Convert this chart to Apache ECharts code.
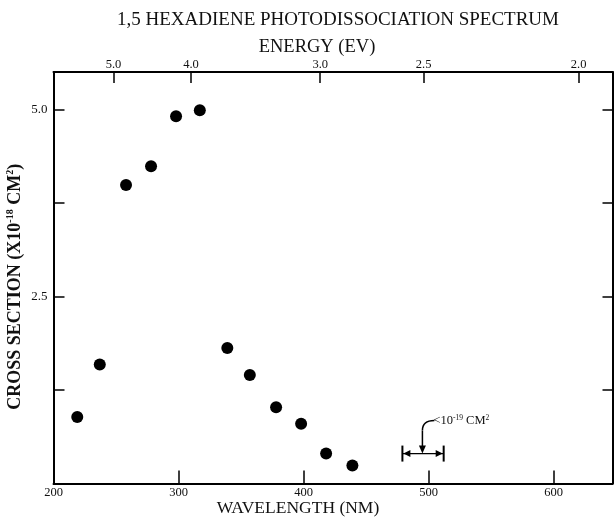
<!DOCTYPE html>
<html>
<head>
<meta charset="utf-8">
<script src="https://cdn.jsdelivr.net/npm/echarts@6/dist/echarts.min.js"></script>
<style>
html,body{margin:0;padding:0;background:#fff;}
#chart{width:615px;height:517px;}
</style>
</head>
<body>
<div id="chart"></div>
<script>
// Data
var wavelengthNm = [219, 237, 258, 278, 298, 317, 339, 357, 378, 398, 418, 439];
var crossSection = [0.89, 1.59, 3.99, 4.24, 4.91, 4.99, 1.81, 1.45, 1.02, 0.80, 0.40, 0.24];
var xTickLabels = [200, 300, 400, 500, 600];
var yTickValues = [0, 1.25, 2.5, 3.75, 5.0];
var yTickLabels = [2.5, 5.0];
var energyTicksEv = [5.0, 4.0, 3.0, 2.5, 2.0];
// upper limit: wavelength range [from, to], value, arrow position
var limitRange = [479, 512];
var limitValue = 0.40;
var limitArrowNm = 495;

var HC = 1239.84; // eV*nm
var energyPos = energyTicksEv.map(function (e) { return HC / e; });
var serif = '"Liberation Serif", "DejaVu Serif", serif';

var chart = echarts.init(document.getElementById('chart'), null, {renderer: 'canvas'});
var points = wavelengthNm.map(function (x, i) { return [x, crossSection[i]]; });

var option = {
  backgroundColor: '#fff',
  animation: false,
  title: [{
    text: '1,5 HEXADIENE PHOTODISSOCIATION SPECTRUM',
    left: 333, top: 6, textAlign: 'center',
    textStyle: {fontFamily: serif, fontSize: 19, fontWeight: 'normal', color: '#111'}
  }],
  grid: {left: 53.5, right: 2.5, top: 72, bottom: 33.5, containLabel: false, outerBoundsMode: 'none'},
  xAxis: [{
    type: 'value', position: 'bottom', min: 200, max: 647, interval: 100,
    name: 'WAVELENGTH (NM)', nameLocation: 'middle', nameGap: 16, nameMoveOverlap: false,
    nameTextStyle: {fontFamily: serif, fontSize: 17.5, color: '#111', padding: [0, 70, 0, 0]},
    axisLine: {show: true, onZero: false, lineStyle: {color: '#000', width: 2}},
    axisTick: {show: true, inside: true, length: 13, lineStyle: {color: '#000', width: 1.5}, customValues: xTickLabels},
    axisLabel: {show: true, customValues: xTickLabels, margin: 3, fontFamily: serif, fontSize: 12.5, color: '#111'},
    splitLine: {show: false}
  }, {
    type: 'value', position: 'top', min: 200, max: 647,
    name: 'ENERGY (EV)', nameLocation: 'middle', nameGap: 15, nameMoveOverlap: false,
    nameTextStyle: {fontFamily: serif, fontSize: 18.5, color: '#111', padding: [0, 32, 0, 0]},
    axisLine: {show: true, onZero: false, lineStyle: {color: '#000', width: 2}},
    axisTick: {show: true, inside: true, length: 11, lineStyle: {color: '#000', width: 1.5}, customValues: energyPos},
    axisLabel: {show: true, customValues: energyPos, margin: 1, fontFamily: serif, fontSize: 12.5, color: '#111',
      formatter: function (v) { return (HC / v).toFixed(1); }},
    splitLine: {show: false}
  }],
  yAxis: [{
    type: 'value', position: 'left', min: 0, max: 5.5,
    name: '{a|CROSS SECTION (X10}{s|-18}{a| CM}{s|2}{a|)}', nameLocation: 'middle', nameRotate: 90, nameGap: 29, nameMoveOverlap: false,
    nameTextStyle: {fontFamily: serif, color: '#111', padding: [0, 0, 0, -18],
      rich: {
        a: {fontFamily: serif, fontSize: 18, fontWeight: 'bold', color: '#111', lineHeight: 19},
        s: {fontFamily: serif, fontSize: 10, fontWeight: 'bold', color: '#111', verticalAlign: 'top', lineHeight: 19}
      }},
    axisLine: {show: true, onZero: false, lineStyle: {color: '#000', width: 2}},
    axisTick: {show: true, inside: true, length: 11, lineStyle: {color: '#000', width: 1.5}, customValues: yTickValues},
    axisLabel: {show: true, customValues: yTickLabels, margin: 6, fontFamily: serif, fontSize: 13, color: '#111',
      formatter: function (v) { return v.toFixed(1); }},
    splitLine: {show: false}
  }, {
    type: 'value', position: 'right', min: 0, max: 5.5,
    axisLine: {show: true, onZero: false, lineStyle: {color: '#000', width: 2}},
    axisTick: {show: true, inside: true, length: 10, lineStyle: {color: '#000', width: 1.5}, customValues: yTickValues},
    axisLabel: {show: false},
    splitLine: {show: false}
  }],
  series: [{
    type: 'scatter', xAxisIndex: 0, yAxisIndex: 0,
    data: points, symbol: 'circle', symbolSize: 12,
    itemStyle: {color: '#000', opacity: 1}
  }, {
    type: 'custom', xAxisIndex: 0, yAxisIndex: 0,
    data: [[limitRange[0], limitRange[1], limitValue, limitArrowNm]],
    renderItem: function (params, api) {
      var p1 = api.coord([api.value(0), api.value(2)]);
      var p2 = api.coord([api.value(1), api.value(2)]);
      var pm = api.coord([api.value(3), api.value(2)]);
      var s = {stroke: '#000', lineWidth: 1.5, fill: null};
      return {
        type: 'group',
        children: [
          {type: 'line', shape: {x1: p1[0], y1: p1[1], x2: p2[0], y2: p2[1]}, style: {stroke: '#000', lineWidth: 1.3}},
          {type: 'line', shape: {x1: p1[0], y1: p1[1] - 8, x2: p1[0], y2: p1[1] + 8}, style: {stroke: '#000', lineWidth: 2}},
          {type: 'line', shape: {x1: p2[0], y1: p2[1] - 8, x2: p2[0], y2: p2[1] + 8}, style: {stroke: '#000', lineWidth: 2}},
          {type: 'polygon', shape: {points: [[p1[0] + 1, p1[1]], [p1[0] + 8, p1[1] - 3.5], [p1[0] + 8, p1[1] + 3.5]]}, style: {fill: '#000'}},
          {type: 'polygon', shape: {points: [[p2[0] - 1, p2[1]], [p2[0] - 8, p2[1] - 3.5], [p2[0] - 8, p2[1] + 3.5]]}, style: {fill: '#000'}},
          {type: 'line', shape: {x1: pm[0], y1: pm[1] - 23, x2: pm[0], y2: pm[1] - 6}, style: s},
          {type: 'polygon', shape: {points: [[pm[0], pm[1]], [pm[0] - 3.5, pm[1] - 8], [pm[0] + 3.5, pm[1] - 8]]}, style: {fill: '#000'}},
          {type: 'bezierCurve', shape: {x1: pm[0], y1: pm[1] - 23, cpx1: pm[0], cpy1: pm[1] - 33, x2: pm[0] + 12, y2: pm[1] - 33}, style: s},
          {type: 'text', x: pm[0] + 11, y: pm[1] - 33, style: {
            text: '{n|<10}{s|-19}{n| CM}{s|2}', verticalAlign: 'middle', align: 'left',
            rich: {
              n: {fontFamily: serif, fontSize: 12.5, fill: '#111', lineHeight: 14},
              s: {fontFamily: serif, fontSize: 7.5, fill: '#111', verticalAlign: 'top', lineHeight: 14}
            }
          }}
        ]
      };
    }
  }]
};
chart.setOption(option);
</script>
</body>
</html>
